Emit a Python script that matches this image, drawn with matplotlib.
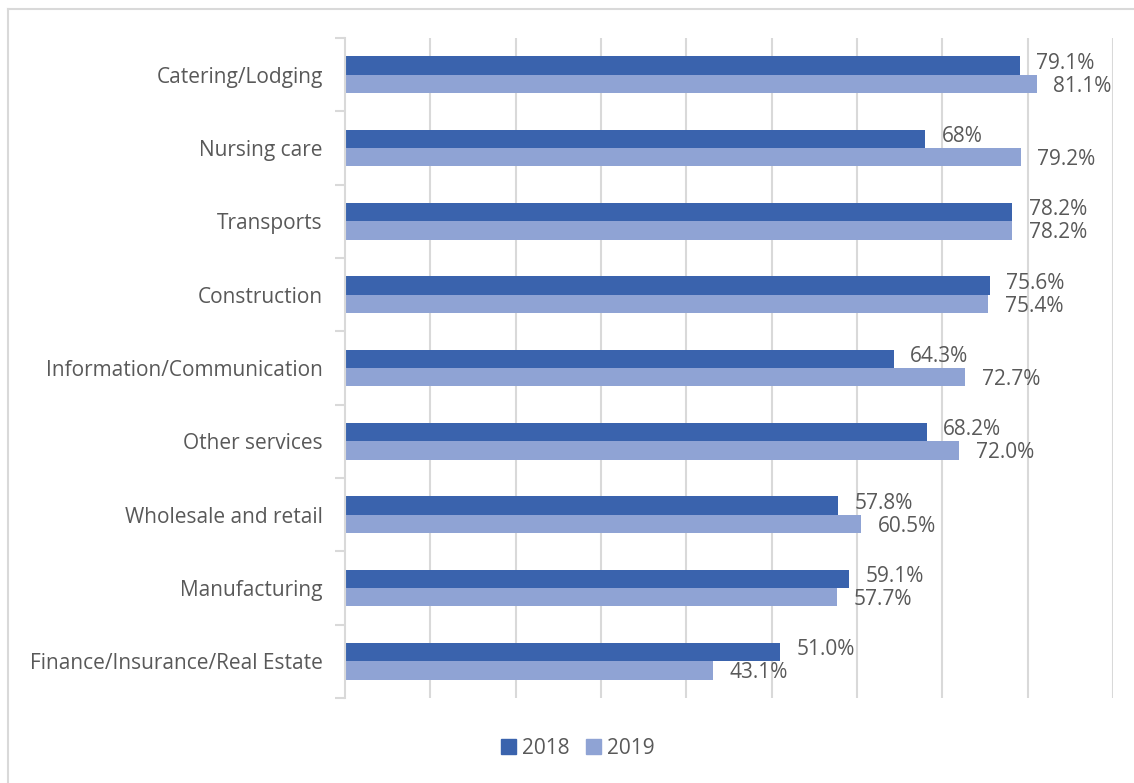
import matplotlib.pyplot as plt
from matplotlib.lines import Line2D
from matplotlib.patches import Patch
import numpy as np

plt.rcParams['font.family'] = ['Open Sans', 'DejaVu Sans']

categories = ["Catering/Lodging", "Nursing care", "Transports", "Construction",
              "Information/Communication", "Other services", "Wholesale and retail",
              "Manufacturing", "Finance/Insurance/Real Estate"]
v2018 = [79.1, 68, 78.2, 75.6, 64.3, 68.2, 57.8, 59.1, 51.0]
v2019 = [81.1, 79.2, 78.2, 75.4, 72.7, 72.0, 60.5, 57.7, 43.1]
lab2018 = ["79.1%", "68%", "78.2%", "75.6%", "64.3%", "68.2%", "57.8%", "59.1%", "51.0%"]
lab2019 = ["81.1%", "79.2%", "78.2%", "75.4%", "72.7%", "72.0%", "60.5%", "57.7%", "43.1%"]

c18 = "#3A63AD"
c19 = "#8FA3D4"
txt = "#595959"
grid = "#D9D9D9"
fs = 15

fig = plt.figure(figsize=(11.34, 7.83), dpi=100)
ax = fig.add_axes([345/1134, 1-698/783, (1113-345)/1134, (698-38)/783])

n = len(categories)
y = np.arange(n)[::-1].astype(float)   # first category at top
h = 0.25
ax.barh(y + h/2, v2018, height=h, color=c18, label="2018")
ax.barh(y - h/2, v2019, height=h, color=c19, label="2019")

# data labels, pushed slightly apart so the pairs don't collide
for yi, v, s in zip(y + h/2 + 0.03, v2018, lab2018):
    ax.text(v + 1.9, yi, s, va='center', ha='left', fontsize=fs, color=txt)
for yi, v, s in zip(y - h/2 - 0.03, v2019, lab2019):
    ax.text(v + 1.9, yi, s, va='center', ha='left', fontsize=fs, color=txt)

ax.set_xlim(0, 90)
ax.set_ylim(-0.5, n - 0.5)
ax.set_xticks(np.arange(10, 91, 10))
ax.tick_params(axis='x', length=0, labelbottom=False)
ax.grid(axis='x', color=grid, lw=1.5)
ax.set_axisbelow(True)

ax.set_yticks(y)
ax.set_yticklabels(categories, fontsize=fs, color=txt)
ax.tick_params(axis='y', which='major', length=0, pad=16)
ax.set_yticks(np.arange(-0.5, n, 1.0), minor=True)
ax.tick_params(axis='y', which='minor', length=7, color=grid, width=1.5)

for side in ['top', 'right', 'bottom']:
    ax.spines[side].set_visible(False)
ax.spines['left'].set_color(grid)
ax.spines['left'].set_linewidth(1.5)

handles = [Patch(color=c18, label="2018"), Patch(color=c19, label="2019")]
fig.legend(handles=handles, loc='center', bbox_to_anchor=(578/1134, 1-748/783),
           ncol=2, frameon=False, fontsize=fs, labelcolor=txt,
           handlelength=0.7, handleheight=0.7, handletextpad=0.3, columnspacing=0.8)

# outer chart border (top and left visible)
fig.add_artist(Line2D([8/1134, 1], [1-9/783, 1-9/783], color=grid, lw=1.5))
fig.add_artist(Line2D([8/1134, 8/1134], [0, 1-9/783], color=grid, lw=1.5))

fig.savefig("out.png", dpi=100)
